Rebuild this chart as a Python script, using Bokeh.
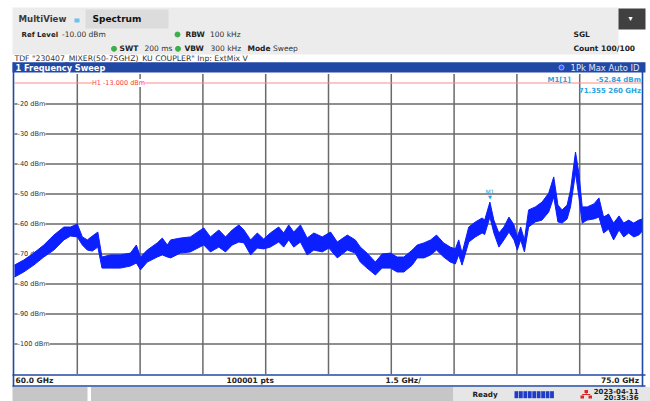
from bokeh.plotting import figure
from bokeh.models import Range1d
from bokeh.core.properties import value
from bokeh.embed import file_html
from bokeh.resources import INLINE

# ---------------- data ----------------
freq_ghz = [60.00, 60.22, 60.46, 60.70, 60.94, 61.18, 61.34, 61.50, 61.62, 61.74,
            61.86, 61.99, 62.09, 62.29, 62.53, 62.77, 62.91, 63.01, 63.17, 63.41,
            63.53, 63.65, 63.73, 63.96, 64.20, 64.52, 64.68, 64.88, 65.04, 65.20,
            65.36, 65.48, 65.64, 65.80, 65.95, 66.11, 66.31, 66.43, 66.55, 66.67,
            66.83, 66.99, 67.15, 67.35, 67.51, 67.55, 67.71, 67.95, 68.14, 68.26,
            68.42, 68.62, 68.78, 68.98, 69.14, 69.30, 69.50, 69.62, 69.78, 69.94,
            70.08, 70.25, 70.41, 70.53, 70.61, 70.69, 70.85, 71.01, 71.17, 71.23,
            71.355, 71.45, 71.57, 71.69, 71.81, 71.93, 72.01, 72.09, 72.18, 72.28,
            72.44, 72.60, 72.76, 72.88, 72.98, 73.08, 73.20, 73.28, 73.40, 73.48,
            73.56, 73.68, 73.84, 73.96, 74.07, 74.19, 74.31, 74.44, 74.55, 74.67,
            74.79, 74.91, 75.00]
trace_max_dbm = [-73.7, -72.0, -69.7, -67.0, -63.7, -61.0, -61.0, -60.0, -64.3, -65.3,
                 -64.0, -62.7, -71.0, -70.3, -70.3, -69.7, -67.0, -71.0, -68.7, -66.3,
                 -64.7, -67.0, -65.3, -64.7, -64.3, -61.3, -64.3, -62.0, -64.3, -62.0,
                 -60.3, -62.0, -65.3, -63.0, -65.0, -63.0, -61.0, -63.0, -60.3, -62.7,
                 -60.3, -64.7, -63.0, -64.3, -63.0, -62.7, -66.0, -63.7, -65.3, -67.7,
                 -69.7, -72.7, -70.0, -69.7, -71.0, -71.0, -68.7, -67.0, -66.3, -65.3,
                 -63.7, -66.3, -67.7, -68.3, -65.3, -69.7, -61.0, -59.3, -58.0, -58.7,
                 -52.7, -58.7, -63.0, -61.0, -57.7, -60.3, -64.3, -61.0, -65.3, -55.3,
                 -54.3, -52.7, -49.7, -44.3, -53.7, -55.3, -53.7, -48.7, -36.0, -43.0,
                 -54.3, -54.3, -53.3, -51.3, -57.7, -56.7, -59.7, -57.3, -59.7, -58.7,
                 -59.7, -58.7, -58.3]
trace_min_dbm = [-77.7, -76.0, -73.7, -71.0, -68.7, -65.3, -64.0, -64.3, -67.0, -68.7,
                 -69.0, -67.7, -74.7, -74.7, -74.7, -74.0, -73.0, -75.3, -72.7, -71.0,
                 -70.3, -71.0, -71.3, -69.7, -69.3, -67.0, -69.3, -67.7, -69.3, -67.0,
                 -66.0, -66.3, -70.3, -68.0, -68.3, -67.7, -66.0, -67.7, -65.3, -67.7,
                 -66.0, -70.3, -68.7, -69.3, -68.0, -68.7, -71.3, -68.7, -69.7, -72.7,
                 -74.7, -77.0, -74.7, -74.7, -76.0, -76.0, -73.7, -71.3, -71.3, -70.3,
                 -68.7, -71.0, -72.7, -73.3, -70.3, -73.7, -66.0, -64.3, -63.0, -63.5,
                 -57.7, -63.0, -67.7, -65.3, -62.7, -65.3, -68.7, -65.3, -69.3, -61.0,
                 -59.3, -58.7, -56.0, -51.0, -59.3, -59.7, -58.3, -54.3, -43.0, -51.0,
                 -59.7, -58.7, -58.3, -57.7, -63.0, -61.7, -65.3, -62.0, -64.3, -63.0,
                 -64.3, -63.7, -62.3]

f_start_ghz = 60.0
f_stop_ghz = 75.0
ref_level_dbm = -10.0
bottom_level_dbm = -110.0
h1_level_dbm = -13.0
marker_freq_ghz = 71.35526
marker_level_dbm = -52.84
xgrid_ghz = [61.5, 63.0, 64.5, 66.0, 67.5, 69.0, 70.5, 72.0, 73.5]
ytick_dbm = [-20, -30, -40, -50, -60, -70, -80, -90, -100]
ytick_labels = ["-20 dBm", "-30 dBm", "-40 dBm", "-50 dBm", "-60 dBm",
                "-70 dBm", "-80 dBm", "-90 dBm", "-100 dBm"]

# ---------------- layout (page pixels of the 650x401 window) ----------------
W, H = 650, 401
PX_L, PX_R, PY_T, PY_B = 14.0, 642.0, 73.5, 373.5   # diagram area in page pixels
FONT = value("DejaVu Sans")
BLUE_BAR = "#2248a6"
TRACE = "#0b1fff"
CYAN = "#2aa3e0"

p = figure(width=W, height=H, output_backend="svg", toolbar_location=None,
           x_axis_type=None, y_axis_type=None, min_border=0,
           x_range=Range1d(0, W), y_range=Range1d(H, 0),
           background_fill_color="white", border_fill_color="white",
           outline_line_color=None)
p.grid.visible = False

ghz_per_px = (f_stop_ghz - f_start_ghz) / (PX_R - PX_L)
db_per_px = (ref_level_dbm - bottom_level_dbm) / (PY_B - PY_T)
p.extra_x_ranges = {"ghz": Range1d(f_start_ghz - PX_L * ghz_per_px,
                                   f_stop_ghz + (W - PX_R) * ghz_per_px)}
p.extra_y_ranges = {"dbm": Range1d(bottom_level_dbm - (H - PY_B) * db_per_px,
                                   ref_level_dbm + PY_T * db_per_px)}
D = dict(x_range_name="ghz", y_range_name="dbm")


def txt(x, y, s, size, color="#222222", bold=False, align="left", **kw):
    p.text(x=[x], y=[y], text=[s], text_font=FONT, text_font_size=f"{size}px",
           text_font_style="bold" if bold else "normal", text_color=color,
           text_align=align, text_baseline="middle", **kw)


def box(l, r, t, b, color, **kw):
    p.quad(left=[l], right=[r], top=[t], bottom=[b], fill_color=color,
           line_color=None, **kw)


# ---------------- header ----------------
box(12, 618, 7, 54, "#ececec")
box(85, 168, 9, 28, "#dcdcdc")
box(618, 645, 8, 29, "#404040")
txt(630, 18, "\u25be", 8, "white", align="center")
box(74, 79, 18, 22, "#6cc0ee")
txt(18, 18.5, "MultiView", 8.6, "#3a3a3a", bold=True)
txt(92, 18.5, "Spectrum", 9, "#111111", bold=True)

txt(21, 34, "Ref Level", 7, "#222222", bold=True)
txt(61.5, 34, "-10.00 dBm", 7.5, "#333333")
p.scatter(x=[177, 113.5, 177.5], y=[34, 48.3, 48.3], size=5, color="#3cae4a")
txt(185, 34, "RBW", 7.5, "#222222", bold=True)
txt(209.5, 34, "100 kHz", 7.5, "#333333")
txt(119, 48.3, "SWT", 7.5, "#222222", bold=True)
txt(144, 48.3, "200 ms", 7.5, "#333333")
txt(184, 48.3, "VBW", 7.5, "#222222", bold=True)
txt(210, 48.3, "300 kHz", 7.5, "#333333")
txt(247, 48.3, "Mode", 7.5, "#222222", bold=True)
txt(272.5, 48.3, "Sweep", 7.5, "#333333")
txt(573, 34, "SGL", 7.5, "#222222", bold=True)
txt(573, 48.3, "Count 100/100", 7.5, "#222222", bold=True)
txt(14, 57.5, 'TDF "230407_MIXER(50-75GHZ)_KU COUPLER"  Inp: ExtMix V', 7.7, "#333333")

# title bar of the diagram
box(12, 645, 61.7, 72, BLUE_BAR)
txt(15, 67, "1 Frequency Sweep", 8.2, "white", bold=True)
p.scatter(x=[561], y=[67], size=5, color="#3a5cf0", line_color="#9fb0ff")
txt(639, 67, "1Pk Max Auto ID", 8.4, "#dfe6f6", align="right")

# ---------------- diagram ----------------
# vertical grid
p.segment(x0=xgrid_ghz, x1=xgrid_ghz, y0=[bottom_level_dbm] * len(xgrid_ghz),
          y1=[ref_level_dbm] * len(xgrid_ghz), line_color="#6a6a6a", line_width=1.5, **D)
# horizontal grid
p.segment(x0=[f_start_ghz] * len(ytick_dbm), x1=[f_stop_ghz] * len(ytick_dbm),
          y0=ytick_dbm, y1=ytick_dbm, line_color="#6a6a6a", line_width=1.5, **D)
# y labels with white background hiding the grid line behind them
p.text(x=[f_start_ghz] * len(ytick_dbm), y=ytick_dbm, text=ytick_labels, x_offset=3,
       text_font=FONT, text_font_size="6.6px", text_color="#333333",
       text_baseline="middle", background_fill_color="white", **D)

# H1 display line
p.segment(x0=[f_start_ghz], x1=[f_stop_ghz], y0=[h1_level_dbm], y1=[h1_level_dbm],
          line_color="#ff8a8a", line_width=1, **D)
p.text(x=[f_start_ghz + (118 - PX_L) * ghz_per_px], y=[h1_level_dbm],
       text=[f"H1 {h1_level_dbm:.3f} dBm"], text_font=FONT, text_font_size="6.5px",
       text_color="#ff3a3a", text_align="center", text_baseline="middle",
       background_fill_color="white", **D)

# trace (1Pk Max)
p.varea(x=freq_ghz, y1=trace_min_dbm, y2=trace_max_dbm, fill_color=TRACE, **D)
p.line(x=freq_ghz, y=trace_max_dbm, line_color=TRACE, line_width=1, **D)
p.line(x=freq_ghz, y=trace_min_dbm, line_color=TRACE, line_width=1, **D)

# marker M1
p.text(x=[marker_freq_ghz], y=[marker_level_dbm], text=["\u25bc"], y_offset=-3,
       text_font=FONT, text_font_size="5px", text_color=CYAN, text_align="center",
       text_baseline="bottom", **D)
p.text(x=[marker_freq_ghz], y=[marker_level_dbm], text=["M1"], y_offset=-8,
       text_font=FONT, text_font_size="6px", text_color=CYAN, text_align="center",
       text_baseline="bottom", **D)
txt(547, 79, "M1[1]", 7, CYAN, bold=True)
txt(640.5, 79, f"{marker_level_dbm:.2f} dBm", 7, CYAN, bold=True, align="right")
mk_ghz_str = f"{marker_freq_ghz:.6f}"
txt(640.5, 90.7, f"{mk_ghz_str[:6]} {mk_ghz_str[6:]} GHz", 7, CYAN, bold=True, align="right")

# frame border
p.segment(x0=[13, 642, 12, 12], x1=[13, 642, 645, 645], y0=[62, 62, 374.5, 385.5],
          y1=[386, 386, 374.5, 385.5], line_color=BLUE_BAR, line_width=1.6)

# footer
txt(15, 380, f"{f_start_ghz:.1f} GHz", 7.5, "#222222", bold=True)
txt(226, 380, "100001 pts", 7.5, "#222222", bold=True)
txt(385, 380, f"{(f_stop_ghz - f_start_ghz) / 10:.1f} GHz/", 7.5, "#222222", bold=True)
txt(638.5, 380, f"{f_stop_ghz:.1f} GHz", 7.5, "#222222", bold=True, align="right")

# status bar
box(12, 87, 386.5, 401, "#c6c6c6")
box(90.5, 453, 386.5, 401, "#c6c6c6")
box(453, 650, 386.5, 401, "#e6e6e6")
txt(472, 394.3, "Ready", 7.2, "#222222", bold=True)
for k in range(9):
    box(514 + k * 4.45, 514 + k * 4.45 + 3.8, 390.7, 397.7, "#1e3cc8")
box(584, 587.5, 389.5, 392.5, "#e02424")
box(580, 583.5, 395, 398, "#e02424")
box(588, 591.5, 395, 398, "#e02424")
p.segment(x0=[585.7, 581.7], x1=[585.7, 589.7], y0=[392.5, 394], y1=[394, 394],
          line_color="#e02424", line_width=1)
txt(638, 390.8, "2023-04-11", 7, "#222222", bold=True, align="right")
txt(638, 397.8, "20:35:36", 7, "#222222", bold=True, align="right")

open("out.html", "w").write(file_html(p, INLINE))
